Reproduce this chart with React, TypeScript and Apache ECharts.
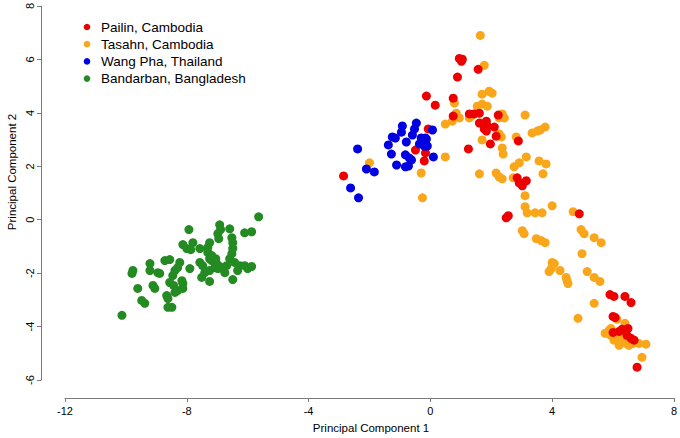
import React, { useEffect, useRef } from "react";
import * as echarts from "echarts";

const seriesNames = ["Pailin, Cambodia", "Tasahn, Cambodia", "Wang Pha, Thailand", "Bandarban, Bangladesh"];
const seriesColors = ["#ec0000", "#f9a61b", "#0000e0", "#238b22"];

const xTicks = [-12, -8, -4, 0, 4, 8];
const yTicks = [-6, -4, -2, 0, 2, 4, 6, 8];

const pailin: number[][] = [
  [0.95, 6.04], [1.05, 6.01], [1.02, 5.93], [1.57, 5.63], [0.89, 5.34], [-0.13, 4.63], [0.16, 4.29],
  [0.75, 4.55], [0.75, 3.88], [1.28, 3.96], [1.44, 3.96], [1.61, 3.99], [2.23, 3.92], [1.61, 3.62],
  [1.84, 3.69], [1.87, 3.51], [1.77, 3.4], [1.84, 3.32], [2.1, 3.47], [2.16, 3.13], [1.97, 2.84],
  [1.25, 2.65], [2.89, 2.95], [-0.07, 3.4], [-0.49, 2.61], [-0.16, 2.5], [-0.2, 2.2], [-2.85, 1.64],
  [2.85, 1.57], [2.92, 1.38], [3.02, 1.27], [3.15, 1.46], [2.49, 0.07], [2.56, 0.15], [4.89, 0.22],
  [5.9, -2.8], [6.03, -2.87], [6.39, -2.87], [6.59, -3.1], [6.0, -3.62], [6.07, -3.66], [6.0, -4.22],
  [6.2, -4.18], [6.3, -4.1], [6.49, -4.07], [6.46, -4.33], [6.59, -4.44], [6.69, -4.51], [6.79, -5.52],
];

const tasahn: number[][] = [
  [1.64, 6.9], [1.77, 5.78], [1.7, 4.7], [1.93, 4.81], [2.03, 4.74], [1.54, 4.25], [1.7, 4.33],
  [1.87, 4.25], [0.79, 4.37], [0.85, 3.99], [0.95, 3.81], [0.72, 3.69], [0.49, 3.58], [1.28, 3.81],
  [1.38, 3.92], [2.26, 3.81], [2.43, 3.81], [2.36, 3.96], [1.67, 3.62], [3.11, 3.92], [2.26, 3.21],
  [2.33, 3.1], [2.82, 3.1], [3.34, 3.25], [3.51, 3.32], [3.61, 3.36], [3.77, 3.47], [1.7, 2.99],
  [2.36, 2.69], [2.39, 2.46], [3.15, 2.35], [2.92, 2.13], [2.75, 1.98], [3.57, 2.2], [3.8, 2.09],
  [3.7, 1.72], [1.61, 1.72], [2.16, 1.75], [2.26, 1.6], [2.36, 1.53], [2.72, 1.57], [3.11, 0.9],
  [3.11, 0.49], [3.18, 0.26], [3.44, 0.26], [3.67, 0.26], [4.0, 0.52], [4.69, 0.3], [3.02, -0.41],
  [3.08, -0.52], [3.48, -0.71], [3.64, -0.78], [3.77, -0.86], [4.95, -0.37], [5.05, -0.52],
  [5.38, -0.67], [5.61, -0.86], [4.98, -1.27], [4.0, -1.6], [4.07, -1.64], [3.97, -1.83], [3.9, -1.94],
  [4.26, -1.9], [4.46, -2.16], [4.49, -2.28], [4.52, -2.39], [5.15, -1.94], [5.38, -2.16], [5.57, -2.31],
  [5.38, -3.13], [4.85, -3.69], [6.13, -3.73], [6.39, -3.88], [5.74, -4.25], [5.87, -4.14], [5.93, -4.33],
  [6.1, -4.44], [6.2, -4.33], [6.26, -4.59], [6.36, -4.4], [6.43, -4.63], [6.59, -4.51], [6.66, -4.63],
  [6.75, -4.59], [6.85, -4.63], [7.08, -4.66], [6.95, -5.15], [6.03, -4.51], [6.52, -4.7], [6.2, -4.7],
  [5.93, -4.07], [-0.3, 1.75], [-0.26, 0.82], [0.49, 2.35], [-2.0, 2.13],
];

const wangPha: number[][] = [
  [-0.92, 3.51], [-0.46, 3.62], [-0.95, 3.28], [-0.52, 3.4], [-1.25, 3.1], [-1.15, 3.06], [-0.59, 3.17],
  [-0.3, 3.06], [-0.16, 3.06], [-0.26, 2.91], [-0.1, 2.76], [-0.36, 2.84], [0.07, 3.36], [-1.38, 2.8],
  [-0.79, 2.91], [-1.28, 2.46], [-0.82, 2.43], [-0.69, 2.31], [-0.62, 2.24], [0.1, 2.35], [-1.11, 2.05],
  [-0.82, 1.98], [-0.72, 2.01], [-2.39, 2.65], [-2.1, 1.9], [-1.84, 1.79], [-2.62, 1.19], [-2.36, 0.82],
  [-0.2, 2.76], [-0.13, 3.02],
];

const bandarban: number[][] = [
  [-5.64, 0.11], [-7.93, -0.37], [-6.92, -0.19], [-6.89, -0.37], [-6.59, -0.34], [-6.1, -0.49],
  [-5.87, -0.45], [-6.98, -0.52], [-6.95, -0.71], [-6.52, -0.67], [-6.49, -0.86], [-8.13, -0.93],
  [-8.0, -1.08], [-7.8, -0.86], [-7.87, -1.12], [-7.57, -1.08], [-7.25, -0.86], [-7.31, -1.04],
  [-7.31, -1.23], [-6.49, -1.08], [-6.52, -1.27], [-6.59, -1.46], [-7.18, -1.34], [-7.25, -1.46],
  [-7.18, -1.53], [-7.57, -1.6], [-7.48, -1.72], [-7.05, -1.46], [-7.02, -1.64], [-6.98, -1.83],
  [-7.08, -1.79], [-6.92, -1.75], [-6.82, -1.83], [-6.69, -1.72], [-6.43, -1.6], [-6.26, -1.72],
  [-6.33, -1.9], [-6.1, -1.72], [-5.87, -1.75], [-6.0, -1.83], [-7.9, -1.83], [-7.41, -1.98],
  [-7.25, -1.9], [-6.75, -1.98], [-7.51, -2.16], [-7.25, -2.31], [-6.49, -2.24], [-8.72, -1.53],
  [-8.56, -1.49], [-8.23, -1.6], [-8.3, -1.79], [-9.21, -1.64], [-9.21, -1.9], [-9.77, -1.9],
  [-9.8, -2.01], [-8.95, -1.98], [-8.89, -2.01], [-8.39, -1.9], [-8.46, -2.09], [-8.16, -2.28],
  [-8.13, -2.39], [-8.56, -2.35], [-8.43, -2.46], [-9.11, -2.46], [-9.05, -2.57], [-9.61, -2.57],
  [-8.13, -2.57], [-8.3, -2.65], [-8.39, -2.72], [-8.66, -2.84], [-8.62, -2.95], [-9.48, -3.02],
  [-9.38, -3.13], [-8.62, -3.28], [-8.49, -3.28], [-10.13, -3.58],
];

const FONT = "'Liberation Sans', Arial, Helvetica, sans-serif";

export default function App() {
  const ref = useRef<HTMLDivElement>(null);
  useEffect(() => {
    if (!ref.current) return;
    const chart = echarts.init(ref.current, null, { renderer: "svg" });
    const groups = [pailin, tasahn, wangPha, bandarban];
    const drawOrder = [1, 0, 2, 3];
    const lineStyle = { color: "#7a7a7a", width: 1 };
    chart.setOption({
      animation: false,
      backgroundColor: "#ffffff",
      grid: { left: 65, right: 5, top: 5, bottom: 58 },
      xAxis: {
        type: "value",
        min: xTicks[0],
        max: xTicks[xTicks.length - 1],
        interval: 4,
        offset: 18,
        splitLine: { show: false },
        axisLine: { show: true, onZero: false, lineStyle },
        axisTick: { show: true, length: 4, lineStyle },
        axisLabel: { color: "#000", fontSize: 11, fontFamily: FONT, margin: 7 },
      },
      yAxis: {
        type: "value",
        min: yTicks[0],
        max: yTicks[yTicks.length - 1],
        interval: 2,
        offset: 24,
        splitLine: { show: false },
        axisLine: { show: true, onZero: false, lineStyle },
        axisTick: { show: true, length: 4, lineStyle },
        axisLabel: { color: "#000", fontSize: 11, fontFamily: FONT, margin: 6, rotate: 90 },
      },
      graphic: [
        {
          type: "text",
          x: 371,
          y: 428,
          style: { text: "Principal Component 1", fill: "#000", fontSize: 11.5, fontFamily: FONT, align: "center", verticalAlign: "middle" },
        },
        {
          type: "text",
          x: 12,
          y: 172,
          rotation: Math.PI / 2,
          style: { text: "Principal Component 2", fill: "#000", fontSize: 11.5, fontFamily: FONT, align: "center", verticalAlign: "middle" },
        },
        ...seriesNames.flatMap((name, i) => [
          { type: "circle", shape: { cx: 87, cy: 27 + i * 17.2, r: 3.3 }, style: { fill: seriesColors[i] } },
          {
            type: "text",
            x: 101,
            y: 27 + i * 17.2,
            style: { text: name, fill: "#000", fontSize: 13.5, fontFamily: FONT, align: "left", verticalAlign: "middle" },
          },
        ]),
      ],
      series: drawOrder.map((i) => ({
        type: "scatter",
        name: seriesNames[i],
        data: groups[i],
        symbol: "circle",
        symbolSize: 9,
        itemStyle: { color: seriesColors[i], opacity: 1 },
        emphasis: { disabled: true },
      })),
    });
    return () => chart.dispose();
  }, []);
  return <div ref={ref} style={{ position: "fixed", left: 0, top: 0, width: 680, height: 438, background: "#fff" }} />;
}
